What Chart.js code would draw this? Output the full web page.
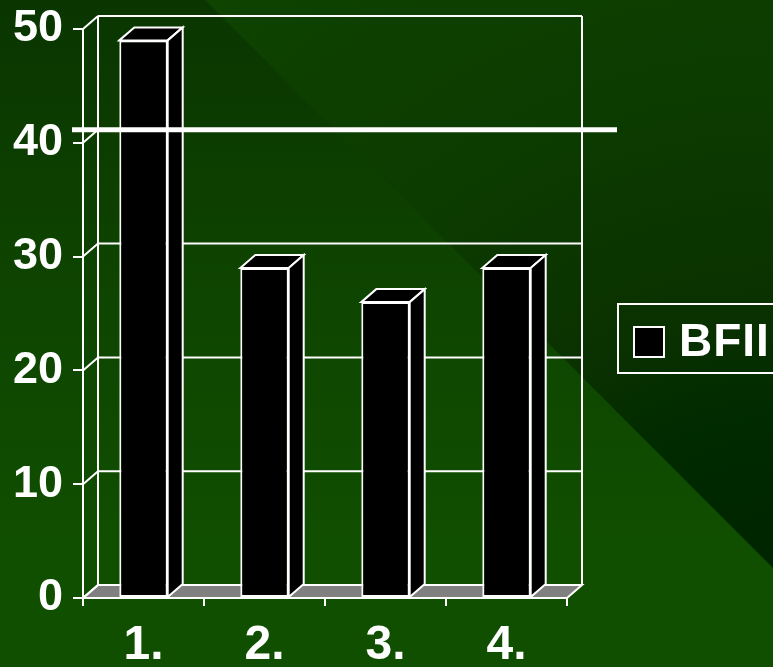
<!DOCTYPE html>
<html>
<head>
<meta charset="utf-8">
<title>BFII</title>
<script src="https://cdn.jsdelivr.net/npm/chart.js@4.4.1/dist/chart.umd.min.js"></script>
<style>
  html, body { margin: 0; padding: 0; background: #104e00; overflow: hidden; }
  #wrap { width: 773px; height: 667px; }
</style>
</head>
<body>
<div id="wrap"><canvas id="bfiiChart"></canvas></div>
<script>
// Chart data
const groups = ['1.', '2.', '3.', '4.'];
const bfiiScores = [49, 29, 26, 29];
const seriesName = 'BFII';
const cutoffScore = 40;
const yRange = [0, 50];
const yStep = 10;

// Depth of the fake 3D box (pixels)
const DEPTH_X = 15;
const DEPTH_Y = -13;
const FONT = "'Liberation Sans', Arial, sans-serif";

// Slide-style two tone green background
const backdrop = {
  id: 'backdrop',
  beforeDraw(chart) {
    const { ctx, width, height } = chart;
    ctx.save();
    const lower = ctx.createLinearGradient(0, 0, 0, height);
    lower.addColorStop(0, '#0a3500');
    lower.addColorStop(0.45, '#0e4500');
    lower.addColorStop(0.8, '#104e00');
    lower.addColorStop(1, '#104f00');
    ctx.fillStyle = lower;
    ctx.fillRect(0, 0, width, height);

    const upper = ctx.createRadialGradient(width, 640, 0, width, 640, 850);
    upper.addColorStop(0, '#002200');
    upper.addColorStop(220 / 850, '#002a00');
    upper.addColorStop(330 / 850, '#0a3100');
    upper.addColorStop(560 / 850, '#0c3c00');
    upper.addColorStop(1, '#0e4300');
    ctx.fillStyle = upper;
    ctx.beginPath();
    ctx.moveTo(205, 0);
    ctx.lineTo(width, 0);
    ctx.lineTo(width, width - 205);
    ctx.closePath();
    ctx.fill();
    ctx.restore();
  }
};

// Back wall, side wall diagonals and floor, then top/side faces of the bars
const box3d = {
  id: 'box3d',
  beforeDatasetsDraw(chart) {
    const { ctx, chartArea: a, scales: { y } } = chart;
    ctx.save();
    ctx.strokeStyle = '#fff';
    ctx.lineWidth = 2;

    // floor
    ctx.fillStyle = '#808080';
    ctx.beginPath();
    ctx.moveTo(a.left, a.bottom);
    ctx.lineTo(a.right, a.bottom);
    ctx.lineTo(a.right + DEPTH_X, a.bottom + DEPTH_Y);
    ctx.lineTo(a.left + DEPTH_X, a.bottom + DEPTH_Y);
    ctx.closePath();
    ctx.fill();
    ctx.stroke();

    ctx.beginPath();
    y.ticks.forEach(t => {
      const yf = y.getPixelForValue(t.value);
      ctx.moveTo(a.left, yf);
      ctx.lineTo(a.left + DEPTH_X, yf + DEPTH_Y);
      if (t.value > yRange[0]) {
        ctx.moveTo(a.left + DEPTH_X, yf + DEPTH_Y);
        ctx.lineTo(a.right + DEPTH_X, yf + DEPTH_Y);
      }
    });
    ctx.moveTo(a.left + DEPTH_X, a.top + DEPTH_Y);
    ctx.lineTo(a.left + DEPTH_X, a.bottom + DEPTH_Y);
    ctx.moveTo(a.right + DEPTH_X, a.top + DEPTH_Y);
    ctx.lineTo(a.right + DEPTH_X, a.bottom + DEPTH_Y);
    ctx.stroke();
    ctx.restore();
  },
  afterDatasetsDraw(chart) {
    const { ctx, chartArea: a, scales: { y } } = chart;
    ctx.save();
    ctx.strokeStyle = '#fff';
    ctx.lineWidth = 2;
    ctx.fillStyle = '#000';
    chart.getDatasetMeta(0).data.forEach(bar => {
      const { x, y: top, base, width } = bar.getProps(['x', 'y', 'base', 'width'], true);
      const l = x - width / 2, r = x + width / 2;
      // top face
      ctx.beginPath();
      ctx.moveTo(l, top);
      ctx.lineTo(l + DEPTH_X, top + DEPTH_Y);
      ctx.lineTo(r + DEPTH_X, top + DEPTH_Y);
      ctx.lineTo(r, top);
      ctx.closePath();
      ctx.fill();
      ctx.stroke();
      // side face
      ctx.beginPath();
      ctx.moveTo(r, top);
      ctx.lineTo(r + DEPTH_X, top + DEPTH_Y);
      ctx.lineTo(r + DEPTH_X, base + DEPTH_Y);
      ctx.lineTo(r, base);
      ctx.closePath();
      ctx.fill();
      ctx.stroke();
    });

    // cutoff line across the chart
    const yc = y.getPixelForValue(cutoffScore) + DEPTH_Y;
    ctx.lineWidth = 5;
    ctx.beginPath();
    ctx.moveTo(a.left - 11, yc);
    ctx.lineTo(a.right + DEPTH_X + 35, yc);
    ctx.stroke();
    ctx.restore();
  }
};

// Boxed legend on the right
const legendBox = {
  id: 'legendBox',
  afterDraw(chart) {
    const { ctx } = chart;
    const ds = chart.data.datasets[0];
    ctx.save();
    ctx.strokeStyle = '#fff';
    ctx.lineWidth = 2;
    ctx.strokeRect(618, 304, 200, 69);
    ctx.fillStyle = ds.backgroundColor;
    ctx.fillRect(634, 327, 30, 30);
    ctx.strokeRect(634, 327, 30, 30);
    ctx.fillStyle = '#fff';
    ctx.font = 'bold 46px ' + FONT;
    ctx.letterSpacing = '1px';
    ctx.textBaseline = 'middle';
    ctx.fillText(ds.label, 679, 343);
    ctx.restore();
  }
};

new Chart(document.getElementById('bfiiChart'), {
  type: 'bar',
  data: {
    labels: groups,
    datasets: [{
      label: seriesName,
      data: bfiiScores,
      backgroundColor: '#000',
      borderColor: '#fff',
      borderWidth: 2,
      borderSkipped: false,
      barPercentage: 0.4,
      categoryPercentage: 1
    }]
  },
  options: {
    responsive: true,
    maintainAspectRatio: false,
    animation: false,
    layout: { padding: { top: 29, right: 206, bottom: 0, left: 0 } },
    plugins: {
      legend: { display: false },
      tooltip: { enabled: false }
    },
    scales: {
      x: {
        grid: { offset: true, drawOnChartArea: false, color: '#fff', lineWidth: 2, tickLength: 8 },
        border: { color: '#fff', width: 2 },
        ticks: { color: '#fff', padding: 11, font: { family: FONT, size: 48, weight: 'bold' } },
        afterFit(scale) { scale.height = 69; }
      },
      y: {
        min: yRange[0],
        max: yRange[1],
        grid: { drawOnChartArea: false, color: '#fff', lineWidth: 2, tickLength: 10 },
        border: { color: '#fff', width: 2 },
        ticks: { stepSize: yStep, color: '#fff', padding: 10, font: { family: FONT, size: 45, weight: 'bold' } },
        afterFit(scale) {
          scale.width = 83;
          // let the plot area start right at the top padding
          scale.paddingTop = 0;
          scale.paddingBottom = 0;
        }
      }
    }
  },
  plugins: [backdrop, box3d, legendBox]
});
</script>
</body>
</html>
